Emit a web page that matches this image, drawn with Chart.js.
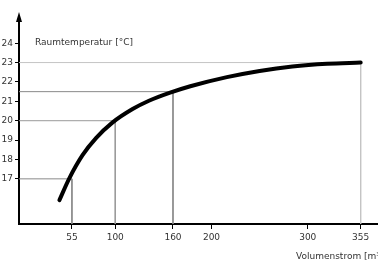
<!DOCTYPE html>
<html>
<head>
<meta charset="utf-8">
<script src="https://cdn.jsdelivr.net/npm/chart.js@4.4.0/dist/chart.umd.min.js"></script>
<style>
  body { margin: 0; background: #fff; }
  canvas { display: block; }
</style>
</head>
<body>
<canvas id="myChart" width="378" height="274"></canvas>
<script>
// curve: Volumenstrom vs Raumtemperatur
const flowValues = [42, 52, 66, 80, 97, 118, 135, 157, 178, 216, 250, 284, 320, 355];
const tempValues = [15.9, 17.0, 18.22, 19.1, 19.9, 20.6, 21.03, 21.45, 21.78, 22.25, 22.57, 22.8, 22.94, 23.0];

// guide lines (operating points)
const guideFlows = [55, 100, 160, 355];
const guideTemps = [17, 20, 21.5, 23];
const guideColors = ['#8a8a8a', '#9a9a9a', '#8a8a8a', '#c4c4c4'];

const xTicks = [55, 100, 160, 200, 300, 355];
const yTicks = [17, 18, 19, 20, 21, 22, 23, 24];

const xMin = 0, xMax = 373;
const yMin = 14.67, yMax = 25.3;

const ctx = document.getElementById('myChart');
const fontFamily = "'DejaVu Sans', sans-serif";

const guideSets = guideFlows.map((f, i) => ({
  data: [{x: xMin, y: guideTemps[i]}, {x: f, y: guideTemps[i]}, {x: f, y: yMin}],
  borderColor: guideColors[i],
  borderWidth: 1,
  pointRadius: 0,
  tension: 0,
  order: 2
}));

const extras = {
  id: 'extras',
  afterDraw(chart) {
    const c = chart.ctx;
    const a = chart.chartArea;
    c.save();
    // arrow on y axis
    c.fillStyle = '#000';
    c.beginPath();
    c.moveTo(a.left, a.top - 6);
    c.lineTo(a.left - 3, a.top + 4);
    c.lineTo(a.left + 3, a.top + 4);
    c.closePath();
    c.fill();
    c.font = '9px ' + fontFamily;
    c.fillStyle = '#333';
    c.textBaseline = 'middle';
    c.fillText('Raumtemperatur [°C]', 35, 43);
    c.fillText('Volumenstrom [m³/h]', 296, 257);
    c.restore();
  }
};

new Chart(ctx, {
  type: 'line',
  data: {
    datasets: [{
      data: flowValues.map((f, i) => ({x: f, y: tempValues[i]})),
      borderColor: '#000',
      borderWidth: 4,
      borderCapStyle: 'round',
      pointRadius: 0,
      cubicInterpolationMode: 'monotone',
      order: 1
    }].concat(guideSets)
  },
  options: {
    responsive: false,
    animation: false,
    layout: { padding: { top: 18, right: 0, left: 0, bottom: 0 } },
    plugins: { legend: { display: false }, tooltip: { enabled: false } },
    scales: {
      x: {
        type: 'linear',
        min: xMin, max: xMax,
        afterBuildTicks: axis => { axis.ticks = xTicks.map(v => ({value: v})); },
        afterFit: axis => { axis.height = 50; },
        border: { display: true, color: '#000', width: 2 },
        grid: { drawOnChartArea: false, drawTicks: true, tickLength: 5, color: '#000', lineWidth: 1 },
        ticks: { color: '#333', font: { family: fontFamily, size: 9 }, padding: 3, maxRotation: 0, autoSkip: false }
      },
      y: {
        type: 'linear',
        min: yMin, max: yMax,
        afterBuildTicks: axis => { axis.ticks = yTicks.map(v => ({value: v})); },
        afterFit: axis => { axis.width = 19; },
        border: { display: true, color: '#000', width: 2 },
        grid: { drawOnChartArea: false, drawTicks: true, tickLength: 4, color: '#000', lineWidth: 1 },
        ticks: { color: '#333', font: { family: fontFamily, size: 9 }, padding: 2, autoSkip: false }
      }
    }
  },
  plugins: [extras]
});
</script>
</body>
</html>
